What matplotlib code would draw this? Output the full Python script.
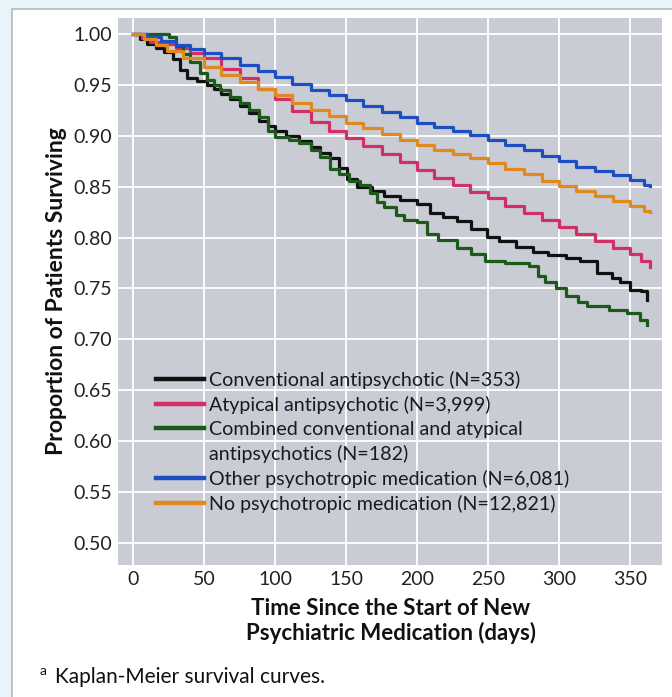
import matplotlib.pyplot as plt
from matplotlib.lines import Line2D
from matplotlib.patches import Rectangle

plt.rcParams["font.family"] = ["Lato", "DejaVu Sans"]

# Kaplan-Meier curves (days, proportion surviving)
conv_days = [0, 5, 10, 16, 22, 28, 33, 38, 45, 52, 57, 62, 68, 75, 82, 89, 95, 100, 108, 117,
             125, 132, 139, 145, 151, 158, 168, 177, 188, 200, 209, 218, 228, 238, 249, 258,
             270, 282, 292, 305, 315, 327, 337, 343, 350, 358, 362]
conv_surv = [1.000, 0.995, 0.990, 0.986, 0.982, 0.975, 0.965, 0.957, 0.954, 0.950, 0.946, 0.941,
             0.936, 0.929, 0.922, 0.915, 0.910, 0.905, 0.900, 0.895, 0.889, 0.883, 0.878, 0.868,
             0.858, 0.850, 0.846, 0.841, 0.837, 0.833, 0.824, 0.820, 0.816, 0.808, 0.801, 0.797,
             0.791, 0.786, 0.783, 0.780, 0.777, 0.765, 0.760, 0.756, 0.749, 0.748, 0.739]

atyp_days = [0, 6, 12, 20, 30, 40, 50, 62, 75, 88, 100, 112, 125, 138, 150, 162, 175, 188, 200,
             212, 225, 237, 250, 262, 275, 288, 300, 312, 325, 338, 350, 358, 364]
atyp_surv = [1.000, 0.996, 0.992, 0.990, 0.986, 0.981, 0.976, 0.966, 0.957, 0.946, 0.936, 0.924,
             0.914, 0.905, 0.898, 0.890, 0.882, 0.874, 0.866, 0.859, 0.852, 0.845, 0.839, 0.831,
             0.824, 0.817, 0.810, 0.804, 0.797, 0.790, 0.784, 0.777, 0.771]

comb_days = [0, 25, 30, 35, 40, 47, 52, 57, 61, 68, 75, 82, 89, 95, 100, 110, 117, 125, 132, 139,
             145, 152, 160, 167, 172, 177, 185, 191, 200, 207, 215, 228, 238, 248, 262, 279, 285,
             290, 298, 305, 313, 320, 335, 348, 357, 362]
comb_surv = [1.000, 0.997, 0.988, 0.980, 0.972, 0.962, 0.955, 0.950, 0.945, 0.938, 0.932, 0.925,
             0.918, 0.905, 0.899, 0.896, 0.893, 0.886, 0.879, 0.867, 0.862, 0.856, 0.852, 0.844,
             0.835, 0.830, 0.822, 0.817, 0.815, 0.804, 0.798, 0.790, 0.784, 0.777, 0.775, 0.772,
             0.762, 0.756, 0.750, 0.743, 0.737, 0.733, 0.729, 0.726, 0.719, 0.714]

other_days = [0, 10, 20, 30, 40, 50, 62, 75, 88, 100, 112, 125, 138, 150, 162, 175, 188, 200, 212,
              225, 237, 250, 262, 275, 288, 300, 312, 325, 338, 350, 360, 364]
other_surv = [1.000, 0.997, 0.993, 0.989, 0.985, 0.981, 0.976, 0.970, 0.964, 0.958, 0.951, 0.945,
              0.940, 0.935, 0.929, 0.923, 0.918, 0.913, 0.909, 0.905, 0.901, 0.896, 0.891, 0.886,
              0.880, 0.875, 0.869, 0.865, 0.861, 0.857, 0.852, 0.851]

none_days = [0, 8, 16, 24, 35, 50, 62, 75, 88, 100, 112, 125, 138, 150, 162, 175, 188, 200, 212,
             225, 237, 250, 262, 275, 288, 300, 312, 325, 338, 350, 360, 364]
none_surv = [1.000, 0.995, 0.989, 0.983, 0.976, 0.968, 0.960, 0.953, 0.946, 0.940, 0.932, 0.925,
             0.919, 0.913, 0.908, 0.902, 0.896, 0.891, 0.886, 0.882, 0.878, 0.873, 0.867, 0.862,
             0.856, 0.851, 0.846, 0.841, 0.836, 0.831, 0.826, 0.825]

labels = ["Conventional antipsychotic (N=353)",
          "Atypical antipsychotic (N=3,999)",
          "Combined conventional and atypical",
          "antipsychotics (N=182)",
          "Other psychotropic medication (N=6,081)",
          "No psychotropic medication (N=12,821)"]

xticks = [0, 50, 100, 150, 200, 250, 300, 350]
yticks = [0.50, 0.55, 0.60, 0.65, 0.70, 0.75, 0.80, 0.85, 0.90, 0.95, 1.00]

W, H = 672, 697
fig = plt.figure(figsize=(W / 100, H / 100), dpi=100, facecolor="#e9f3fa")

# white page box with gray border
fig.patches.append(Rectangle((12 / W, -0.05), 1.0, (H - 9) / H + 0.05, transform=fig.transFigure,
                             facecolor="white", edgecolor="#b5b8bc", linewidth=1.2, zorder=-5))

ax = fig.add_axes([118 / W, (H - 565) / H, 544 / W, 547 / H])
ax.set_zorder(2)
ax.set_facecolor("#c9ccd4")
for s in ax.spines.values():
    s.set_visible(False)
ax.grid(True, color="white", linewidth=1.3)
ax.set_axisbelow(True)

lw = 2.3
ax.plot(conv_days, conv_surv, drawstyle="steps-post", color="#111111", lw=lw)
ax.plot(atyp_days, atyp_surv, drawstyle="steps-post", color="#d42e67", lw=lw)
ax.plot(comb_days, comb_surv, drawstyle="steps-post", color="#1d5a1a", lw=lw)
ax.plot(other_days, other_surv, drawstyle="steps-post", color="#1d4fc0", lw=lw)
ax.plot(none_days, none_surv, drawstyle="steps-post", color="#e1891c", lw=lw)

ax.set_xlim(-10.6, 372.5)
ax.set_ylim(0.4784, 1.0157)
ax.set_xticks(xticks)
ax.set_yticks(yticks)
ax.set_yticklabels([f"{v:.2f}" for v in yticks])
ax.tick_params(length=0, labelsize=14, labelcolor="#222222", pad=4)

handles = [Line2D([], [], color=c, lw=3.2) for c in ["#111111", "#d42e67", "#1d5a1a"]]
handles.append(Line2D([], [], color="none"))
handles += [Line2D([], [], color=c, lw=3.2) for c in ["#1d4fc0", "#e1891c"]]
leg = ax.legend(handles, labels, loc="upper left",
                bbox_to_anchor=(156 / W, (H - 371) / H), bbox_transform=fig.transFigure,
                frameon=False, fontsize=14.1, handlelength=2.45, handletextpad=0.25,
                labelspacing=0.35, borderpad=0, borderaxespad=0)
for t in leg.get_texts():
    t.set_color("#1a1a1a")

fig.text(57 / W, (H - 291) / H, "Proportion of Patients Surviving", rotation=90,
         ha="center", va="center", fontsize=16.5, fontweight="bold", color="#111111")
fig.text(391 / W, (H - 621) / H, "Time Since the Start of New\nPsychiatric Medication (days)",
         ha="center", va="center", fontsize=16, fontweight="bold", color="#111111",
         linespacing=1.2)
fig.text(40 / W, (H - 671) / H, "a", fontsize=10, color="#111111", va="center")
fig.text(55 / W, (H - 677) / H, "Kaplan-Meier survival curves.", fontsize=15,
         color="#111111", va="center")

plt.savefig("out.png", dpi=100, facecolor=fig.get_facecolor())
